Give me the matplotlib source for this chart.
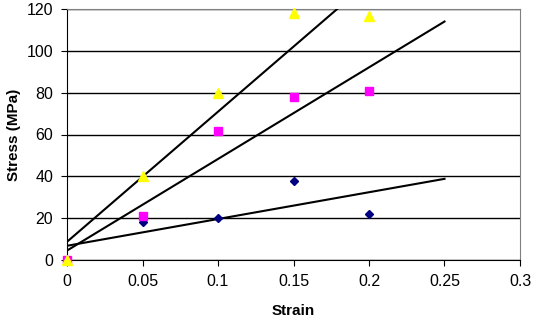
import numpy as np
import matplotlib
matplotlib.use("Agg")
import matplotlib.pyplot as plt

plt.rcParams['font.family'] = ['Liberation Sans', 'DejaVu Sans']

strain = [0, 0.05, 0.1, 0.15, 0.2]
stress_blue = [0, 18, 20, 38, 22]
stress_pink = [0, 21, 61.5, 78, 81]
stress_yellow = [0, 40, 80, 118, 116.5]

fig = plt.figure(figsize=(5.38, 3.21), dpi=100)
ax = fig.add_axes([67/538, 1 - 260/321, (520 - 67)/538, (260 - 9)/321])

ax.set_xlim(0, 0.3)
ax.set_ylim(0, 120)
ax.set_xticks(np.arange(0, 0.31, 0.05))
ax.set_xticklabels(['0', '0.05', '0.1', '0.15', '0.2', '0.25', '0.3'])
ax.set_yticks(np.arange(0, 121, 20))
ax.yaxis.grid(True, color='black', lw=1)
ax.set_axisbelow(True)

# linear trendlines, forecast forward to 0.25
xfit = np.array([0, 0.25])
for ys in (stress_yellow, stress_pink, stress_blue):
    k, b = np.polyfit(strain, ys, 1)
    ax.plot(xfit, k*xfit + b, color='black', lw=1.5, zorder=3)

ax.plot(strain, stress_blue, ls='none', marker='D', ms=4.5, color='#000080', zorder=4, clip_on=False)
ax.plot(strain, stress_pink, ls='none', marker='s', ms=6, color='#ff00ff', zorder=4, clip_on=False)
ax.plot(strain, stress_yellow, ls='none', marker='^', ms=7, color='#ffff00', zorder=4, clip_on=False)

for s in ('top', 'right'):
    ax.spines[s].set_color('#808080')
ax.spines['left'].set_color('black')
ax.spines['bottom'].set_color('black')
ax.tick_params(direction='out', length=4, labelsize=11.5, colors='black', pad=6)

ax.set_xlabel('Strain', fontweight='bold', fontsize=11, labelpad=11)
ax.set_ylabel('Stress (MPa)', fontweight='bold', fontsize=11, labelpad=4)

fig.savefig('out.png', dpi=100)
